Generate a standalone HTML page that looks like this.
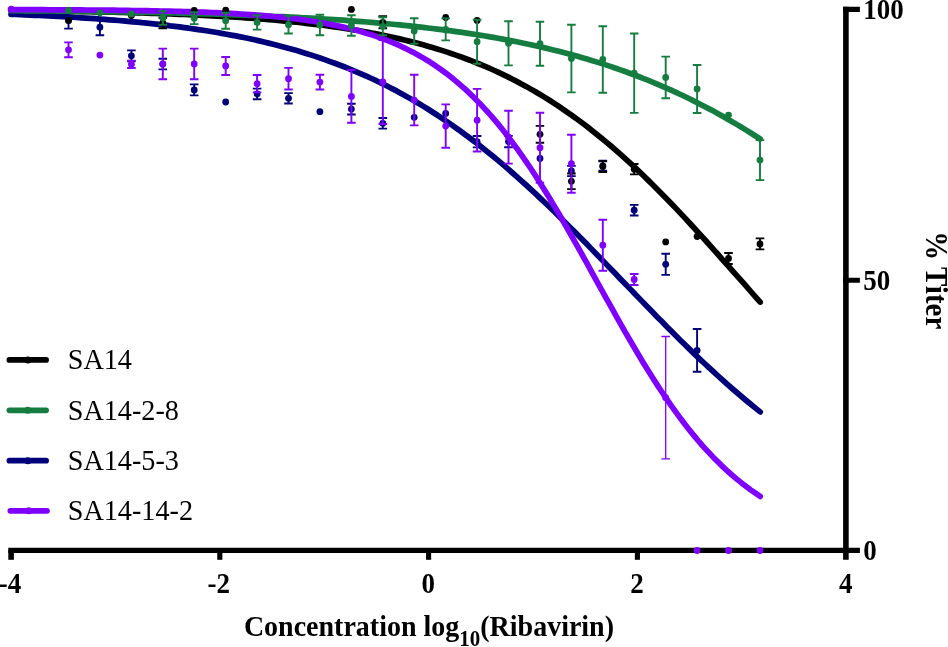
<!DOCTYPE html>
<html lang="en"><head><meta charset="utf-8"><title>Ribavirin dose response</title>
<style>
html,body{margin:0;padding:0;background:#fff}
body{width:948px;height:647px;overflow:hidden}
svg{display:block;font-family:"Liberation Serif","Times New Roman",serif}
</style></head><body>
<svg width="948" height="647" viewBox="0 0 948 647">
<rect width="948" height="647" fill="#ffffff"/>
<g stroke="#000" stroke-width="5.1" fill="none" stroke-linecap="butt">
<path d="M8.3 550.4H859.9"/>
<path d="M845.9 6.8V559.8" stroke-width="5.6"/>
<path d="M843.1 9.35H859.9M843.1 280.3H859.9"/>
<path d="M11.1 550V559.8" stroke-width="5.6"/>
<path d="M219.8 550V559.8"/>
<path d="M428.6 550V559.8"/>
<path d="M637.4 550V559.8"/>
</g>
<g fill="#00007b" stroke="none">
<path d="M68.5 12.2V28.6M64.2 12.2H72.8M64.2 28.6H72.8M99.9 19.2V35.2M95.6 19.2H104.2M95.6 35.2H104.2M131.4 50.4V61.2M127.1 50.4H135.7M127.1 61.2H135.7M162.8 58.8V69.4M158.5 58.8H167.1M158.5 69.4H167.1M194.2 84.4V95.4M189.9 84.4H198.5M189.9 95.4H198.5M257.1 88.6V99.2M252.8 88.6H261.4M252.8 99.2H261.4M288.5 93.1V103.5M284.2 93.1H292.8M284.2 103.5H292.8M351.4 103.7V114.5M347.1 103.7H355.7M347.1 114.5H355.7M382.8 118.0V128.6M378.5 118.0H387.1M378.5 128.6H387.1M477.1 136.0V147.4M472.8 136.0H481.4M472.8 147.4H481.4M508.5 135.9V147.3M504.2 135.9H512.8M504.2 147.3H512.8M571.4 165.9V176.1M567.1 165.9H575.7M567.1 176.1H575.7M602.8 160.8V170.8M598.5 160.8H607.1M598.5 170.8H607.1M634.2 204.9V215.5M629.9 204.9H638.5M629.9 215.5H638.5M665.7 253.7V274.9M661.4 253.7H670.0M661.4 274.9H670.0M697.1 329.0V371.8M692.8 329.0H701.4M692.8 371.8H701.4" fill="none" stroke="#00007b" stroke-width="1.9"/>
<circle cx="68.5" cy="20.4" r="3.4"/><circle cx="99.9" cy="27.2" r="3.4"/><circle cx="131.4" cy="55.8" r="3.4"/><circle cx="162.8" cy="64.1" r="3.4"/><circle cx="194.2" cy="89.9" r="3.4"/><circle cx="225.7" cy="102.0" r="3.4"/><circle cx="257.1" cy="93.9" r="3.4"/><circle cx="288.5" cy="98.3" r="3.4"/><circle cx="319.9" cy="111.7" r="3.4"/><circle cx="351.4" cy="109.1" r="3.4"/><circle cx="382.8" cy="123.3" r="3.4"/><circle cx="414.2" cy="117.3" r="3.4"/><circle cx="445.7" cy="113.4" r="3.4"/><circle cx="477.1" cy="141.7" r="3.4"/><circle cx="508.5" cy="141.6" r="3.4"/><circle cx="540.0" cy="158.4" r="3.4"/><circle cx="571.4" cy="171.0" r="3.4"/><circle cx="602.8" cy="165.8" r="3.4"/><circle cx="634.2" cy="210.2" r="3.4"/><circle cx="665.7" cy="264.3" r="3.4"/><circle cx="697.1" cy="350.4" r="3.4"/>
</g>
<path d="M11.0 10.6 L15.7 10.6 L20.4 10.7 L25.1 10.8 L29.8 10.8 L34.5 10.9 L39.1 10.9 L43.8 11.0 L48.5 11.0 L53.2 11.1 L57.9 11.2 L62.5 11.2 L67.2 11.3 L71.9 11.4 L76.6 11.5 L81.3 11.6 L86.0 11.6 L90.6 11.7 L95.3 11.8 L100.0 11.9 L104.7 12.0 L109.4 12.1 L114.0 12.2 L118.7 12.3 L123.4 12.5 L128.1 12.6 L132.8 12.7 L137.5 12.8 L142.1 13.0 L146.8 13.1 L151.5 13.3 L156.2 13.4 L160.9 13.6 L165.6 13.8 L170.2 13.9 L174.9 14.1 L179.6 14.3 L184.3 14.5 L189.0 14.7 L193.6 14.9 L198.3 15.1 L203.0 15.3 L207.7 15.6 L212.4 15.8 L217.1 16.1 L221.7 16.3 L226.4 16.6 L231.1 16.9 L235.8 17.2 L240.5 17.5 L245.2 17.8 L249.8 18.1 L254.5 18.5 L259.2 18.8 L263.9 19.2 L268.6 19.6 L273.2 20.0 L277.9 20.4 L282.6 20.8 L287.3 21.3 L292.0 21.8 L296.7 22.2 L301.3 22.7 L306.0 23.3 L310.7 23.8 L315.4 24.4 L320.1 24.9 L324.8 25.5 L329.4 26.2 L334.1 26.8 L338.8 27.5 L343.5 28.2 L348.2 28.9 L352.8 29.7 L357.5 30.4 L362.2 31.3 L366.9 32.1 L371.6 33.0 L376.3 33.9 L380.9 34.8 L385.6 35.8 L390.3 36.8 L395.0 37.8 L399.7 38.9 L404.3 40.0 L409.0 41.1 L413.7 42.3 L418.4 43.6 L423.1 44.8 L427.8 46.2 L432.4 47.5 L437.1 48.9 L441.8 50.4 L446.5 51.9 L451.2 53.5 L455.9 55.1 L460.5 56.7 L465.2 58.5 L469.9 60.2 L474.6 62.1 L479.3 64.0 L483.9 65.9 L488.6 67.9 L493.3 70.0 L498.0 72.2 L502.7 74.4 L507.4 76.6 L512.0 79.0 L516.7 81.4 L521.4 83.9 L526.1 86.4 L530.8 89.1 L535.5 91.8 L540.1 94.5 L544.8 97.4 L549.5 100.3 L554.2 103.3 L558.9 106.4 L563.5 109.6 L568.2 112.8 L572.9 116.1 L577.6 119.5 L582.3 123.0 L587.0 126.5 L591.6 130.2 L596.3 133.9 L601.0 137.7 L605.7 141.6 L610.4 145.5 L615.1 149.6 L619.7 153.7 L624.4 157.9 L629.1 162.1 L633.8 166.4 L638.5 170.9 L643.1 175.3 L647.8 179.9 L652.5 184.5 L657.2 189.2 L661.9 193.9 L666.6 198.7 L671.2 203.5 L675.9 208.4 L680.6 213.4 L685.3 218.4 L690.0 223.5 L694.6 228.5 L699.3 233.7 L704.0 238.8 L708.7 244.0 L713.4 249.3 L718.1 254.5 L722.7 259.8 L727.4 265.0 L732.1 270.3 L736.8 275.6 L741.5 280.9 L746.2 286.2 L750.8 291.5 L755.5 296.8 L760.2 302.1" fill="none" stroke="#000000" stroke-width="5.7" stroke-linecap="round" stroke-linejoin="round"/>
<path d="M11.0 14.3 L15.7 14.5 L20.4 14.7 L25.1 14.9 L29.8 15.1 L34.5 15.3 L39.1 15.5 L43.8 15.7 L48.5 15.9 L53.2 16.2 L57.9 16.4 L62.5 16.7 L67.2 16.9 L71.9 17.2 L76.6 17.5 L81.3 17.8 L86.0 18.1 L90.6 18.4 L95.3 18.7 L100.0 19.1 L104.7 19.4 L109.4 19.8 L114.0 20.1 L118.7 20.5 L123.4 20.9 L128.1 21.3 L132.8 21.8 L137.5 22.2 L142.1 22.7 L146.8 23.1 L151.5 23.6 L156.2 24.1 L160.9 24.7 L165.6 25.2 L170.2 25.8 L174.9 26.3 L179.6 26.9 L184.3 27.6 L189.0 28.2 L193.6 28.9 L198.3 29.6 L203.0 30.3 L207.7 31.0 L212.4 31.8 L217.1 32.5 L221.7 33.4 L226.4 34.2 L231.1 35.1 L235.8 35.9 L240.5 36.9 L245.2 37.8 L249.8 38.8 L254.5 39.8 L259.2 40.9 L263.9 42.0 L268.6 43.1 L273.2 44.2 L277.9 45.4 L282.6 46.7 L287.3 47.9 L292.0 49.2 L296.7 50.6 L301.3 52.0 L306.0 53.4 L310.7 54.9 L315.4 56.4 L320.1 58.0 L324.8 59.6 L329.4 61.3 L334.1 63.0 L338.8 64.7 L343.5 66.5 L348.2 68.4 L352.8 70.3 L357.5 72.3 L362.2 74.3 L366.9 76.4 L371.6 78.5 L376.3 80.7 L380.9 83.0 L385.6 85.3 L390.3 87.7 L395.0 90.1 L399.7 92.7 L404.3 95.2 L409.0 97.9 L413.7 100.5 L418.4 103.3 L423.1 106.1 L427.8 109.0 L432.4 112.0 L437.1 115.0 L441.8 118.1 L446.5 121.3 L451.2 124.5 L455.9 127.8 L460.5 131.1 L465.2 134.6 L469.9 138.1 L474.6 141.6 L479.3 145.3 L483.9 149.0 L488.6 152.7 L493.3 156.5 L498.0 160.4 L502.7 164.4 L507.4 168.4 L512.0 172.5 L516.7 176.6 L521.4 180.8 L526.1 185.0 L530.8 189.3 L535.5 193.7 L540.1 198.1 L544.8 202.5 L549.5 207.0 L554.2 211.5 L558.9 216.1 L563.5 220.7 L568.2 225.4 L572.9 230.1 L577.6 234.8 L582.3 239.5 L587.0 244.3 L591.6 249.1 L596.3 253.9 L601.0 258.7 L605.7 263.6 L610.4 268.4 L615.1 273.3 L619.7 278.2 L624.4 283.0 L629.1 287.9 L633.8 292.7 L638.5 297.6 L643.1 302.4 L647.8 307.3 L652.5 312.1 L657.2 316.9 L661.9 321.6 L666.6 326.4 L671.2 331.1 L675.9 335.7 L680.6 340.4 L685.3 345.0 L690.0 349.6 L694.6 354.1 L699.3 358.6 L704.0 363.0 L708.7 367.4 L713.4 371.7 L718.1 376.0 L722.7 380.2 L727.4 384.4 L732.1 388.5 L736.8 392.5 L741.5 396.5 L746.2 400.5 L750.8 404.3 L755.5 408.1 L760.2 411.9" fill="none" stroke="#00007b" stroke-width="5.7" stroke-linecap="round" stroke-linejoin="round"/>
<path d="M11.0 10.6 L15.7 10.7 L20.4 10.7 L25.1 10.8 L29.8 10.8 L34.5 10.9 L39.1 10.9 L43.8 10.9 L48.5 11.0 L53.2 11.0 L57.9 11.1 L62.5 11.1 L67.2 11.2 L71.9 11.3 L76.6 11.3 L81.3 11.4 L86.0 11.4 L90.6 11.5 L95.3 11.6 L100.0 11.6 L104.7 11.7 L109.4 11.8 L114.0 11.8 L118.7 11.9 L123.4 12.0 L128.1 12.1 L132.8 12.2 L137.5 12.2 L142.1 12.3 L146.8 12.4 L151.5 12.5 L156.2 12.6 L160.9 12.7 L165.6 12.8 L170.2 12.9 L174.9 13.0 L179.6 13.1 L184.3 13.3 L189.0 13.4 L193.6 13.5 L198.3 13.6 L203.0 13.8 L207.7 13.9 L212.4 14.0 L217.1 14.2 L221.7 14.3 L226.4 14.5 L231.1 14.6 L235.8 14.8 L240.5 15.0 L245.2 15.1 L249.8 15.3 L254.5 15.5 L259.2 15.7 L263.9 15.9 L268.6 16.1 L273.2 16.3 L277.9 16.5 L282.6 16.7 L287.3 16.9 L292.0 17.2 L296.7 17.4 L301.3 17.7 L306.0 17.9 L310.7 18.2 L315.4 18.4 L320.1 18.7 L324.8 19.0 L329.4 19.3 L334.1 19.6 L338.8 19.9 L343.5 20.2 L348.2 20.6 L352.8 20.9 L357.5 21.3 L362.2 21.6 L366.9 22.0 L371.6 22.4 L376.3 22.8 L380.9 23.2 L385.6 23.6 L390.3 24.0 L395.0 24.5 L399.7 24.9 L404.3 25.4 L409.0 25.9 L413.7 26.4 L418.4 26.9 L423.1 27.4 L427.8 28.0 L432.4 28.5 L437.1 29.1 L441.8 29.7 L446.5 30.3 L451.2 30.9 L455.9 31.6 L460.5 32.2 L465.2 32.9 L469.9 33.6 L474.6 34.3 L479.3 35.1 L483.9 35.8 L488.6 36.6 L493.3 37.4 L498.0 38.3 L502.7 39.1 L507.4 40.0 L512.0 40.9 L516.7 41.8 L521.4 42.8 L526.1 43.7 L530.8 44.7 L535.5 45.8 L540.1 46.8 L544.8 47.9 L549.5 49.0 L554.2 50.2 L558.9 51.3 L563.5 52.5 L568.2 53.8 L572.9 55.0 L577.6 56.3 L582.3 57.7 L587.0 59.0 L591.6 60.4 L596.3 61.9 L601.0 63.4 L605.7 64.9 L610.4 66.4 L615.1 68.0 L619.7 69.6 L624.4 71.3 L629.1 73.0 L633.8 74.7 L638.5 76.5 L643.1 78.4 L647.8 80.2 L652.5 82.1 L657.2 84.1 L661.9 86.1 L666.6 88.1 L671.2 90.2 L675.9 92.4 L680.6 94.5 L685.3 96.8 L690.0 99.0 L694.6 101.4 L699.3 103.7 L704.0 106.2 L708.7 108.6 L713.4 111.1 L718.1 113.7 L722.7 116.3 L727.4 119.0 L732.1 121.7 L736.8 124.4 L741.5 127.2 L746.2 130.1 L750.8 133.0 L755.5 136.0 L760.2 139.0" fill="none" stroke="#147d3f" stroke-width="5.7" stroke-linecap="round" stroke-linejoin="round"/>
<path d="M11.0 9.6 L15.7 9.6 L20.4 9.6 L25.1 9.7 L29.8 9.7 L34.5 9.7 L39.1 9.7 L43.8 9.7 L48.5 9.8 L53.2 9.8 L57.9 9.8 L62.5 9.8 L67.2 9.9 L71.9 9.9 L76.6 9.9 L81.3 9.9 L86.0 10.0 L90.6 10.0 L95.3 10.1 L100.0 10.1 L104.7 10.1 L109.4 10.2 L114.0 10.2 L118.7 10.3 L123.4 10.4 L128.1 10.4 L132.8 10.5 L137.5 10.6 L142.1 10.6 L146.8 10.7 L151.5 10.8 L156.2 10.9 L160.9 11.0 L165.6 11.1 L170.2 11.2 L174.9 11.3 L179.6 11.4 L184.3 11.6 L189.0 11.7 L193.6 11.8 L198.3 12.0 L203.0 12.2 L207.7 12.4 L212.4 12.5 L217.1 12.7 L221.7 13.0 L226.4 13.2 L231.1 13.4 L235.8 13.7 L240.5 14.0 L245.2 14.3 L249.8 14.6 L254.5 14.9 L259.2 15.3 L263.9 15.6 L268.6 16.0 L273.2 16.5 L277.9 16.9 L282.6 17.4 L287.3 17.9 L292.0 18.4 L296.7 19.0 L301.3 19.6 L306.0 20.3 L310.7 21.0 L315.4 21.7 L320.1 22.5 L324.8 23.3 L329.4 24.2 L334.1 25.1 L338.8 26.1 L343.5 27.1 L348.2 28.2 L352.8 29.4 L357.5 30.6 L362.2 32.0 L366.9 33.4 L371.6 34.8 L376.3 36.4 L380.9 38.1 L385.6 39.8 L390.3 41.7 L395.0 43.6 L399.7 45.7 L404.3 47.9 L409.0 50.2 L413.7 52.6 L418.4 55.2 L423.1 57.9 L427.8 60.7 L432.4 63.7 L437.1 66.8 L441.8 70.1 L446.5 73.6 L451.2 77.3 L455.9 81.1 L460.5 85.1 L465.2 89.2 L469.9 93.6 L474.6 98.2 L479.3 102.9 L483.9 107.9 L488.6 113.0 L493.3 118.4 L498.0 123.9 L502.7 129.7 L507.4 135.7 L512.0 141.9 L516.7 148.2 L521.4 154.8 L526.1 161.6 L530.8 168.5 L535.5 175.7 L540.1 183.0 L544.8 190.5 L549.5 198.1 L554.2 205.9 L558.9 213.8 L563.5 221.9 L568.2 230.0 L572.9 238.3 L577.6 246.6 L582.3 255.0 L587.0 263.4 L591.6 271.9 L596.3 280.4 L601.0 288.8 L605.7 297.3 L610.4 305.7 L615.1 314.1 L619.7 322.4 L624.4 330.7 L629.1 338.8 L633.8 346.8 L638.5 354.7 L643.1 362.5 L647.8 370.1 L652.5 377.6 L657.2 384.9 L661.9 392.0 L666.6 398.9 L671.2 405.7 L675.9 412.2 L680.6 418.6 L685.3 424.7 L690.0 430.7 L694.6 436.4 L699.3 442.0 L704.0 447.3 L708.7 452.4 L713.4 457.4 L718.1 462.1 L722.7 466.6 L727.4 471.0 L732.1 475.1 L736.8 479.1 L741.5 482.9 L746.2 486.5 L750.8 490.0 L755.5 493.2 L760.2 496.4" fill="none" stroke="#7f00ff" stroke-width="5.7" stroke-linecap="round" stroke-linejoin="round"/>
<g fill="#000000" stroke="none">
<path d="M162.8 17.7V28.3M158.5 17.7H167.1M158.5 28.3H167.1M382.8 16.3V28.3M378.5 16.3H387.1M378.5 28.3H387.1M540.0 125.9V142.7M535.7 125.9H544.2M535.7 142.7H544.2M571.4 173.5V189.1M567.1 173.5H575.7M567.1 189.1H575.7M602.8 161.2V172.0M598.5 161.2H607.1M598.5 172.0H607.1M634.2 164.0V174.4M629.9 164.0H638.5M629.9 174.4H638.5M728.5 253.0V264.0M724.2 253.0H732.8M724.2 264.0H732.8M760.0 238.4V249.4M755.7 238.4H764.3M755.7 249.4H764.3" fill="none" stroke="#000000" stroke-width="1.9"/>
<circle cx="68.5" cy="20.4" r="3.4"/><circle cx="131.4" cy="15.5" r="3.4"/><circle cx="162.8" cy="23.0" r="3.4"/><circle cx="194.2" cy="10.3" r="3.4"/><circle cx="225.7" cy="10.2" r="3.4"/><circle cx="351.4" cy="9.4" r="3.4"/><circle cx="382.8" cy="22.3" r="3.4"/><circle cx="445.7" cy="17.5" r="3.4"/><circle cx="477.1" cy="20.4" r="3.4"/><circle cx="540.0" cy="134.3" r="3.4"/><circle cx="571.4" cy="181.3" r="3.4"/><circle cx="602.8" cy="166.6" r="3.4"/><circle cx="634.2" cy="169.2" r="3.4"/><circle cx="665.7" cy="241.9" r="3.4"/><circle cx="697.1" cy="236.5" r="3.4"/><circle cx="728.5" cy="258.5" r="3.4"/><circle cx="760.0" cy="243.9" r="3.4"/>
</g>
<circle cx="11.2" cy="9.3" r="3.5" fill="#7f00ff"/>
<g fill="#7f00ff" stroke="none">
<path d="M68.5 42.4V57.2M64.2 42.4H72.8M64.2 57.2H72.8M131.4 60.6V68.0M127.1 60.6H135.7M127.1 68.0H135.7M162.8 48.6V79.2M158.5 48.6H167.1M158.5 79.2H167.1M194.2 48.6V79.2M189.9 48.6H198.5M189.9 79.2H198.5M225.7 57.0V75.0M221.3 57.0H230.0M221.3 75.0H230.0M257.1 75.0V92.4M252.8 75.0H261.4M252.8 92.4H261.4M288.5 67.9V89.5M284.2 67.9H292.8M284.2 89.5H292.8M319.9 74.7V89.5M315.6 74.7H324.2M315.6 89.5H324.2M351.4 70.0V122.8M347.1 70.0H355.7M347.1 122.8H355.7M382.8 40.0V124.0M378.5 40.0H387.1M378.5 124.0H387.1M414.2 74.8V125.4M409.9 74.8H418.5M409.9 125.4H418.5M445.7 104.4V147.8M441.4 104.4H450.0M441.4 147.8H450.0M477.1 88.9V151.5M472.8 88.9H481.4M472.8 151.5H481.4M508.5 110.8V163.6M504.2 110.8H512.8M504.2 163.6H512.8M540.0 112.7V182.7M535.7 112.7H544.2M535.7 182.7H544.2M571.4 134.7V192.7M567.1 134.7H575.7M567.1 192.7H575.7M602.8 219.7V270.7M598.5 219.7H607.1M598.5 270.7H607.1M634.2 274.0V285.0M629.9 274.0H638.5M629.9 285.0H638.5" fill="none" stroke="#7f00ff" stroke-width="1.9"/>
<path d="M665.7 336.5V458.9M661.4 336.5H670.0M661.4 458.9H670.0" fill="none" stroke="#7f00ff" stroke-width="1.3"/>
<circle cx="68.5" cy="49.8" r="3.4"/><circle cx="99.9" cy="55.1" r="3.4"/><circle cx="131.4" cy="64.3" r="3.4"/><circle cx="162.8" cy="63.9" r="3.4"/><circle cx="194.2" cy="63.9" r="3.4"/><circle cx="225.7" cy="66.0" r="3.4"/><circle cx="257.1" cy="83.7" r="3.4"/><circle cx="288.5" cy="78.7" r="3.4"/><circle cx="319.9" cy="82.1" r="3.4"/><circle cx="351.4" cy="96.4" r="3.4"/><circle cx="382.8" cy="82.0" r="3.4"/><circle cx="414.2" cy="100.1" r="3.4"/><circle cx="445.7" cy="126.1" r="3.4"/><circle cx="477.1" cy="120.2" r="3.4"/><circle cx="508.5" cy="137.2" r="3.4"/><circle cx="540.0" cy="147.7" r="3.4"/><circle cx="571.4" cy="163.7" r="3.4"/><circle cx="602.8" cy="245.2" r="3.4"/><circle cx="634.2" cy="279.5" r="3.4"/><circle cx="665.7" cy="397.7" r="3.4"/><circle cx="697.1" cy="550.5" r="3.4"/><circle cx="728.5" cy="550.5" r="3.4"/><circle cx="760.0" cy="550.5" r="3.4"/>
</g>
<g fill="#147d3f" stroke="none">
<path d="M162.8 11.1V24.7M158.5 11.1H167.1M158.5 24.7H167.1M194.2 12.3V24.1M189.9 12.3H198.5M189.9 24.1H198.5M225.7 12.7V28.7M221.3 12.7H230.0M221.3 28.7H230.0M257.1 15.2V29.6M252.8 15.2H261.4M252.8 29.6H261.4M288.5 15.9V33.5M284.2 15.9H292.8M284.2 33.5H292.8M319.9 14.8V35.2M315.6 14.8H324.2M315.6 35.2H324.2M351.4 15.3V35.7M347.1 15.3H355.7M347.1 35.7H355.7M382.8 17.3V35.3M378.5 17.3H387.1M378.5 35.3H387.1M414.2 18.3V43.7M409.9 18.3H418.5M409.9 43.7H418.5M445.7 18.4V40.4M441.4 18.4H450.0M441.4 40.4H450.0M477.1 19.7V63.7M472.8 19.7H481.4M472.8 63.7H481.4M508.5 21.2V65.4M504.2 21.2H512.8M504.2 65.4H512.8M540.0 21.7V65.7M535.7 21.7H544.2M535.7 65.7H544.2M571.4 24.8V92.4M567.1 24.8H575.7M567.1 92.4H575.7M602.8 26.3V92.7M598.5 26.3H607.1M598.5 92.7H607.1M634.2 33.5V112.9M629.9 33.5H638.5M629.9 112.9H638.5M665.7 56.6V98.2M661.4 56.6H670.0M661.4 98.2H670.0M697.1 65.0V113.0M692.8 65.0H701.4M692.8 113.0H701.4M760.0 140.1V180.1M755.7 140.1H764.3M755.7 180.1H764.3" fill="none" stroke="#147d3f" stroke-width="1.9"/>
<circle cx="68.5" cy="10.5" r="3.4"/><circle cx="99.9" cy="12.8" r="3.4"/><circle cx="131.4" cy="13.9" r="3.4"/><circle cx="162.8" cy="17.9" r="3.4"/><circle cx="194.2" cy="18.2" r="3.4"/><circle cx="225.7" cy="20.7" r="3.4"/><circle cx="257.1" cy="22.4" r="3.4"/><circle cx="288.5" cy="24.7" r="3.4"/><circle cx="319.9" cy="25.0" r="3.4"/><circle cx="351.4" cy="25.5" r="3.4"/><circle cx="382.8" cy="26.3" r="3.4"/><circle cx="414.2" cy="31.0" r="3.4"/><circle cx="445.7" cy="29.4" r="3.4"/><circle cx="477.1" cy="41.7" r="3.4"/><circle cx="508.5" cy="43.3" r="3.4"/><circle cx="540.0" cy="43.7" r="3.4"/><circle cx="571.4" cy="58.6" r="3.4"/><circle cx="602.8" cy="59.5" r="3.4"/><circle cx="634.2" cy="73.2" r="3.4"/><circle cx="665.7" cy="77.4" r="3.4"/><circle cx="697.1" cy="89.0" r="3.4"/><circle cx="728.5" cy="115.1" r="3.4"/><circle cx="760.0" cy="160.1" r="3.4"/>
</g>
<path d="M9.4 359.9H46.1" stroke="#000000" stroke-width="5.7" stroke-linecap="round"/>
<circle cx="27.8" cy="359.9" r="3.5" fill="#000000"/>
<text transform="translate(67.7 369.4) scale(1 1.060)" font-size="28.2">SA14</text>
<path d="M9.4 410.3H46.1" stroke="#147d3f" stroke-width="5.7" stroke-linecap="round"/>
<circle cx="27.8" cy="410.3" r="3.5" fill="#147d3f"/>
<text transform="translate(67.7 419.8) scale(1 1.060)" font-size="28.2">SA14-2-8</text>
<path d="M9.4 460.7H46.1" stroke="#00007b" stroke-width="5.7" stroke-linecap="round"/>
<circle cx="27.8" cy="460.7" r="3.5" fill="#00007b"/>
<text transform="translate(67.7 470.2) scale(1 1.060)" font-size="28.2">SA14-5-3</text>
<path d="M10.3 510.8H47.0" stroke="#7f00ff" stroke-width="5.7" stroke-linecap="round"/>
<circle cx="28.7" cy="510.8" r="3.5" fill="#7f00ff"/>
<text transform="translate(67.7 520.3) scale(1 1.060)" font-size="28.2">SA14-14-2</text>
<g font-weight="bold" font-size="27" fill="#000">
<text transform="translate(10.0 592.6) scale(1 1.060)" text-anchor="middle">-4</text>
<text transform="translate(218.8 592.6) scale(1 1.060)" text-anchor="middle">-2</text>
<text transform="translate(428.2 592.6) scale(1 1.060)" text-anchor="middle">0</text>
<text transform="translate(637.0 592.6) scale(1 1.060)" text-anchor="middle">2</text>
<text transform="translate(845.8 592.6) scale(1 1.060)" text-anchor="middle">4</text>
<text transform="translate(863.2 18.8) scale(1 1.060)" >100</text>
<text transform="translate(863.2 290.3) scale(1 1.060)" >50</text>
<text transform="translate(863.2 560.3) scale(1 1.060)" >0</text>
</g>
<text transform="translate(243.9 636.2) scale(1 1.060)" font-weight="bold" font-size="28">Concentration log<tspan font-size="21" dy="9">10</tspan><tspan dy="-9">(Ribavirin)</tspan></text>
<text transform="translate(926.0 231.3) rotate(90) scale(1 1.060)" font-weight="bold" font-size="29">% Titer</text>
</svg>
</body></html>
